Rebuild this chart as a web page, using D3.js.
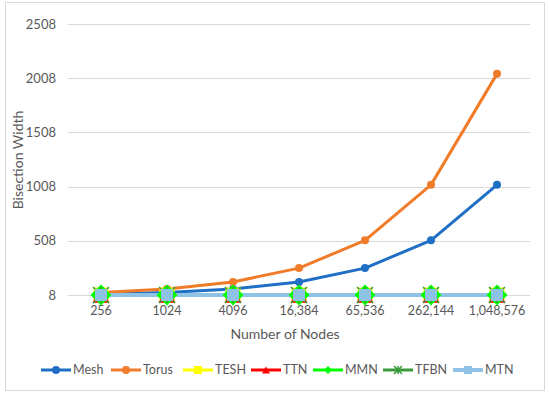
<!DOCTYPE html>
<html>
<head>
<meta charset="utf-8">
<script src="https://cdn.jsdelivr.net/npm/d3@7"></script>
<style>
  body { margin: 0; background: #fff; }
  text { font-family: Lato, "Open Sans", sans-serif; fill: #595959; }
</style>
</head>
<body>
<svg id="chart"></svg>
<script>
// chart data
const nodes = ["256", "1024", "4096", "16,384", "65,536", "262,144", "1,048,576"];
const yTicks = [8, 508, 1008, 1508, 2008, 2508];

const mesh  = [16, 32, 64, 128, 256, 512, 1024];
const torus = [32, 64, 128, 256, 512, 1024, 2048];
const tesh  = [8, 8, 8, 8, 8, 8, 8];
const ttn   = [8, 8, 8, 8, 8, 8, 8];
const mmn   = [8, 8, 8, 8, 8, 8, 8];
const tfbn  = [8, 8, 8, 8, 8, 8, 8];
const mtn   = [8, 8, 8, 8, 8, 8, 8];

const series = [
  { name: "Mesh",  values: mesh,  color: "#1f6fc5", width: 3, marker: "circle", size: 8 },
  { name: "Torus", values: torus, color: "#f07c2a", width: 3, marker: "circle", size: 8 },
  { name: "TESH",  values: tesh,  color: "#ffff00", width: 3, marker: "square", size: 15 },
  { name: "TTN",   values: ttn,   color: "#ff0000", width: 3, marker: "triangle", size: 17 },
  { name: "MMN",   values: mmn,   color: "#00ff00", width: 3, marker: "diamond", size: 21 },
  { name: "TFBN",  values: tfbn,  color: "#3a9a3a", width: 3, marker: "star", size: 16 },
  { name: "MTN",   values: mtn,   color: "#8fc3e6", width: 4, marker: "square", size: 12 }
];

const width = 550, height = 398;
const margin = { top: 24, right: 20, bottom: 103, left: 68 };

const svg = d3.select("#chart")
  .attr("width", width)
  .attr("height", height);

// outer frame
svg.append("rect")
  .attr("x", 5.5).attr("y", 2.5)
  .attr("width", 539).attr("height", 388)
  .attr("fill", "#fff")
  .attr("stroke", "#d9d9d9");

const xScale = d3.scaleBand()
  .domain(nodes)
  .range([margin.left, width - margin.right]);

const yScale = d3.scaleLinear()
  .domain([8, 2508])
  .range([height - margin.bottom, margin.top]);

// gridlines
svg.append("g")
  .selectAll("line")
  .data(yTicks)
  .join("line")
    .attr("x1", margin.left)
    .attr("x2", width - margin.right)
    .attr("y1", d => Math.round(yScale(d)) + 0.5)
    .attr("y2", d => Math.round(yScale(d)) + 0.5)
    .attr("stroke", "#d9d9d9")
    .attr("stroke-width", 1);

// y axis labels
const yAxis = d3.axisLeft(yScale)
  .tickValues(yTicks)
  .tickFormat(d3.format("d"))
  .tickSize(0)
  .tickPadding(12);

svg.append("g")
  .attr("transform", `translate(${margin.left}, 0)`)
  .call(yAxis)
  .call(g => g.select(".domain").remove())
  .selectAll("text")
    .attr("font-size", "13px")
    .attr("fill", "#595959")
    .style("font-family", "Lato, sans-serif");

// x axis labels
const xAxis = d3.axisBottom(xScale)
  .tickSize(0)
  .tickPadding(11);

svg.append("g")
  .attr("transform", `translate(0, ${yScale(8)})`)
  .call(xAxis)
  .call(g => g.select(".domain").remove())
  .selectAll("text")
    .attr("font-size", "12.5px")
    .attr("fill", "#595959")
    .style("font-family", "Lato, sans-serif");

// axis titles
svg.append("text")
  .attr("transform", "rotate(-90)")
  .attr("x", -160)
  .attr("y", 23)
  .attr("font-size", "14px")
  .style("text-anchor", "middle")
  .text("Bisection Width");

svg.append("text")
  .attr("x", 285)
  .attr("y", 339)
  .attr("font-size", "14px")
  .style("text-anchor", "middle")
  .text("Number of Nodes");

const cx = d => xScale(d) + xScale.bandwidth() / 2;

function markerPath(type, size) {
  const h = size / 2;
  if (type === "square") return `M${-h},${-h}H${h}V${h}H${-h}Z`;
  if (type === "diamond") return `M0,${-h}L${h},0L0,${h}L${-h},0Z`;
  if (type === "triangle") return `M0,${-h * 0.9}L${h},${h * 0.9}L${-h},${h * 0.9}Z`;
  if (type === "star") return `M${-h},${-h}L${h},${h}M${h},${-h}L${-h},${h}M0,${-h}V${h}`;
  return d3.symbol(d3.symbolCircle, size * size * Math.PI / 4)();
}

function drawMarker(g, s) {
  const p = g.append("path").attr("d", markerPath(s.marker, s.size));
  if (s.marker === "star") {
    p.attr("fill", "none").attr("stroke", s.color).attr("stroke-width", 1.5);
  } else {
    p.attr("fill", s.color);
  }
}

const line = d3.line()
  .x((d, i) => cx(nodes[i]))
  .y(d => yScale(d));

series.forEach(s => {
  svg.append("path")
    .datum(s.values)
    .attr("fill", "none")
    .attr("stroke", s.color)
    .attr("stroke-width", s.width)
    .attr("stroke-linejoin", "round")
    .attr("d", line);
});

series.forEach(s => {
  s.values.forEach((v, i) => {
    const g = svg.append("g")
      .attr("transform", `translate(${cx(nodes[i])}, ${yScale(v)})`);
    drawMarker(g, s);
  });
});

// legend
const legendX = [41, 111, 183, 251, 313, 383, 453];
const legend = svg.append("g").attr("transform", "translate(0, 370)");

series.forEach((s, i) => {
  const g = legend.append("g").attr("transform", `translate(${legendX[i]}, 0)`);
  g.append("line")
    .attr("x1", 0).attr("x2", 30)
    .attr("stroke", s.color)
    .attr("stroke-width", s.width);
  const m = g.append("g").attr("transform", "translate(15, 0)");
  drawMarker(m, Object.assign({}, s, { size: Math.min(s.size, 8) }));
  g.append("text")
    .attr("x", 32)
    .attr("dy", "0.35em")
    .attr("font-size", "12.5px")
    .text(s.name);
});
</script>
</body>
</html>
